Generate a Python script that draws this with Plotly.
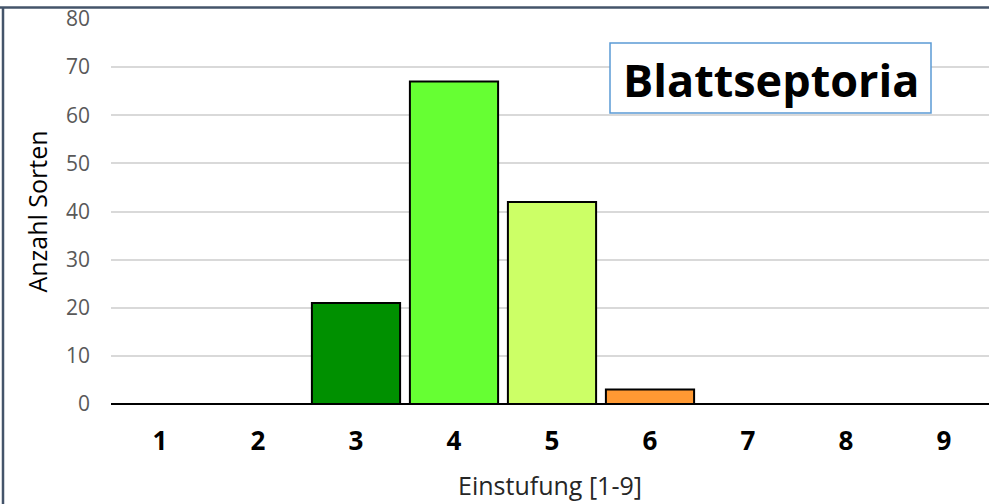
import plotly.graph_objects as go

categories = ["1", "2", "3", "4", "5", "6", "7", "8", "9"]
values = [0, 0, 21, 67, 42, 3, 0, 0, 0]
bar_colors = ["#009000", "#009000", "#009000", "#66FF33", "#CCFF66", "#FF9933", "#FF9933", "#FF9933", "#FF9933"]
y_ticks = [0, 10, 20, 30, 40, 50, 60, 70, 80]
label_box = "Blattseptoria"
x_title = "Einstufung [1-9]"
y_title = "Anzahl Sorten"

W, H = 989, 504
L, R, T, B = 111, 0, 19, 100
pw, ph = W - L - R, H - T - B

def px(x):
    return (x - L) / pw

def py(y):
    return (H - B - y) / ph

xs = list(range(1, 10))
font = "'Open Sans', 'Noto Sans', sans-serif"

fig = go.Figure()
fig.add_trace(go.Bar(
    x=[x for x, v in zip(xs, values) if v > 0],
    y=[v for v in values if v > 0],
    width=0.9,
    marker=dict(color=[c for c, v in zip(bar_colors, values) if v > 0],
                line=dict(color="#000000", width=2)),
    hoverinfo="x+y",
))

fig.update_layout(
    width=W, height=H,
    margin=dict(l=L, r=R, t=T, b=B),
    paper_bgcolor="white", plot_bgcolor="white",
    showlegend=False,
    font=dict(family=font),
    xaxis=dict(
        range=[0.5, 9.5 - 4 / 98], tickmode="array", tickvals=xs, ticktext=categories,
        showgrid=False, zeroline=False, showline=False, ticks="",
        tickfont=dict(size=26, color="#000000", family=font, weight="bold"),
        ticklabelstandoff=19,
        title=dict(text=x_title, font=dict(size=25, color="#262626"), standoff=20),
    ),
    yaxis=dict(
        range=[0, 80], tickvals=y_ticks, showgrid=True, gridcolor="#D9D9D9", gridwidth=2,
        zeroline=True, zerolinecolor="#000000", zerolinewidth=2, showline=False, ticks="",
        tickfont=dict(size=21, color="#595959"), ticklabelstandoff=20,
        title=dict(text=y_title, font=dict(size=25, color="#000000"), standoff=11),
    ),
    shapes=[
        dict(type="rect", xref="paper", yref="paper", x0=px(610), x1=px(931), y0=py(113), y1=py(43),
             line=dict(color="#5B9BD5", width=1.5), fillcolor="white", layer="above"),
        dict(type="line", xref="paper", yref="paper", x0=px(0), x1=px(989), y0=py(7.5), y1=py(7.5),
             line=dict(color="#44546A", width=2.5)),
        dict(type="line", xref="paper", yref="paper", x0=px(3), x1=px(3), y0=py(7.5), y1=py(504),
             line=dict(color="#44546A", width=2.5)),
    ],
    annotations=[
        dict(text=label_box, xref="paper", yref="paper", x=px(770.5), y=py(79), showarrow=False,
             xanchor="center", yanchor="middle",
             font=dict(size=45, color="#000000", family=font, weight="bold")),
    ],
)

fig.write_html("out.html", config={"displayModeBar": False},
               post_script="document.body.style.margin='0';document.body.style.padding='0';")
